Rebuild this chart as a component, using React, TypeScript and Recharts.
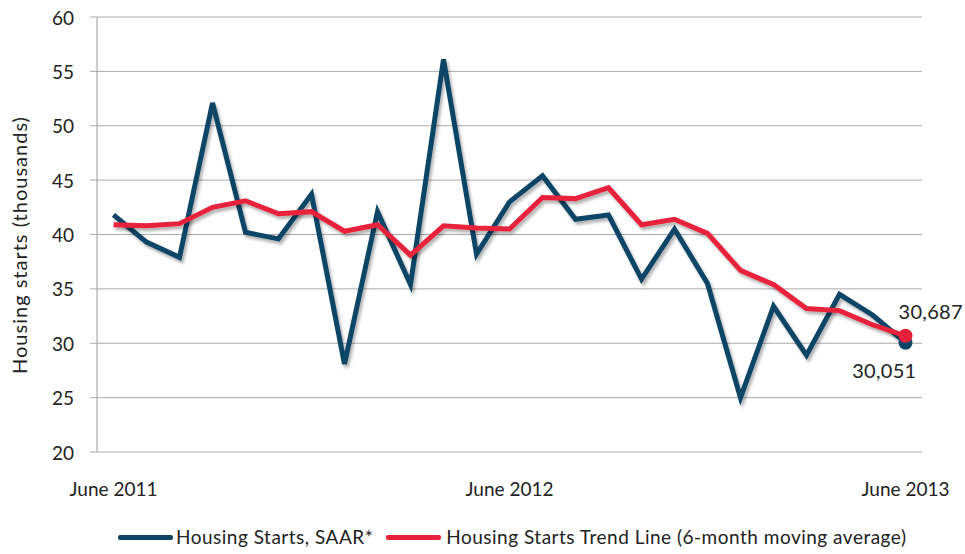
import { LineChart, Line, XAxis, YAxis, CartesianGrid } from "recharts";

const months = [
  "Jun 2011", "Jul 2011", "Aug 2011", "Sep 2011", "Oct 2011", "Nov 2011", "Dec 2011",
  "Jan 2012", "Feb 2012", "Mar 2012", "Apr 2012", "May 2012", "Jun 2012", "Jul 2012",
  "Aug 2012", "Sep 2012", "Oct 2012", "Nov 2012", "Dec 2012", "Jan 2013", "Feb 2013",
  "Mar 2013", "Apr 2013", "May 2013", "Jun 2013",
];

const starts = [
  41.8, 39.3, 37.9, 52.1, 40.2, 39.6, 43.7, 28.1, 42.1, 35.4, 56.1, 38.2, 43.0,
  45.4, 41.4, 41.8, 35.9, 40.5, 35.5, 25.0, 33.4, 28.9, 34.5, 32.6, 30.051,
];

const trend = [
  40.9, 40.8, 41.0, 42.5, 43.1, 41.9, 42.1, 40.3, 40.9, 38.1, 40.8, 40.6, 40.5,
  43.4, 43.3, 44.3, 40.9, 41.4, 40.1, 36.7, 35.4, 33.2, 33.0, 31.7, 30.687,
];

const xTickIdx = [0, 12, 24];
const xTickLabels = ["June 2011", "June 2012", "June 2013"];
const yTicks = [20, 25, 30, 35, 40, 45, 50, 55, 60];
const endLabels = { starts: "30,051", trend: "30,687" };

const BLUE = "#0e4466";
const RED = "#e8213b";
const FONT = "Lato, 'Open Sans', sans-serif";

const data = months.map((m, i) => ({ idx: i, month: m, starts: starts[i], trend: trend[i] }));
const last = months.length - 1;

const XTick = ({ x, payload }: any) => (
  <text x={x} y={488} textAnchor="middle" dominantBaseline="central" fill="#222" fontSize={19} fontFamily={FONT}>
    {xTickLabels[xTickIdx.indexOf(payload.value)]}
  </text>
);

const YTick = ({ y, payload }: any) => (
  <text x={74} y={y} textAnchor="end" dominantBaseline="central" fill="#222" fontSize={19} fontFamily={FONT}>
    {payload.value}
  </text>
);

const endDot = (key: "starts" | "trend", color: string) => (props: any) => {
  const { cx, cy, index } = props;
  if (index !== last) return <g key={index} />;
  const below = key === "starts";
  return (
    <g key={index}>
      <circle cx={cx} cy={cy} r={7} fill={color} />
      <text
        x={below ? cx + 11 : cx - 7}
        y={below ? cy + 27 : cy - 25}
        textAnchor={below ? "end" : "start"}
        dominantBaseline="central"
        fill="#222"
        fontSize={20}
        letterSpacing={0.3}
        fontFamily={FONT}
      >
        {endLabels[key]}
      </text>
    </g>
  );
};

export default function App() {
  return (
    <div style={{ position: "absolute", left: 0, top: 0, width: 965, height: 554, background: "#fff", fontFamily: FONT }}>
      <style>{`.recharts-line path.recharts-curve { filter: url(#lineShadow); }`}</style>
      <svg width={0} height={0} style={{ position: "absolute" }}>
        <defs>
          <filter id="lineShadow" x="-10%" y="-10%" width="120%" height="130%">
            <feDropShadow dx="2" dy="3" stdDeviation="1.5" floodColor="#000" floodOpacity="0.3" />
          </filter>
        </defs>
      </svg>
      <LineChart width={965} height={554} data={data} margin={{ top: 17, right: 43, bottom: 0, left: 0 }}>
        <CartesianGrid vertical={false} stroke="#aaa" strokeWidth={1} />
        <XAxis
          dataKey="idx"
          type="number"
          domain={[-0.5, 24.5]}
          ticks={xTickIdx}
          tick={<XTick />}
          tickLine={false}
          axisLine={false}
          height={102}
        />
        <YAxis
          domain={[20, 60]}
          ticks={yTicks}
          width={97}
          tick={<YTick />}
          tickSize={7}
          tickLine={{ stroke: "#aaa" }}
          axisLine={{ stroke: "#999" }}
          label={{
            content: () => (
              <text
                x={19}
                y={245}
                transform="rotate(-90 19 245)"
                textAnchor="middle"
                dominantBaseline="central"
                fill="#222"
                fontSize={20}
                letterSpacing={1}
                fontFamily={FONT}
              >
                Housing starts (thousands)
              </text>
            ),
          }}
        />
        <Line
          dataKey="starts"
          stroke={BLUE}
          strokeWidth={5}
          strokeLinejoin="miter"
          dot={endDot("starts", BLUE)}
          activeDot={false}
          isAnimationActive={false}
        />
        <Line
          dataKey="trend"
          stroke={RED}
          strokeWidth={5}
          dot={endDot("trend", RED)}
          activeDot={false}
          isAnimationActive={false}
        />
      </LineChart>
      <div
        style={{
          position: "absolute",
          top: 524,
          left: 118,
          display: "flex",
          alignItems: "center",
          fontSize: 19,
          letterSpacing: 0.5,
          color: "#222",
          whiteSpace: "nowrap",
          lineHeight: "26px",
        }}
      >
        <span style={{ display: "inline-block", width: 55, height: 5, background: BLUE, borderRadius: 2, marginRight: 3 }} />
        <span>Housing Starts, SAAR*</span>
        <span style={{ display: "inline-block", width: 55, height: 5, background: RED, borderRadius: 2, marginLeft: 13, marginRight: 5 }} />
        <span>Housing Starts Trend Line (6-month moving average)</span>
      </div>
    </div>
  );
}
